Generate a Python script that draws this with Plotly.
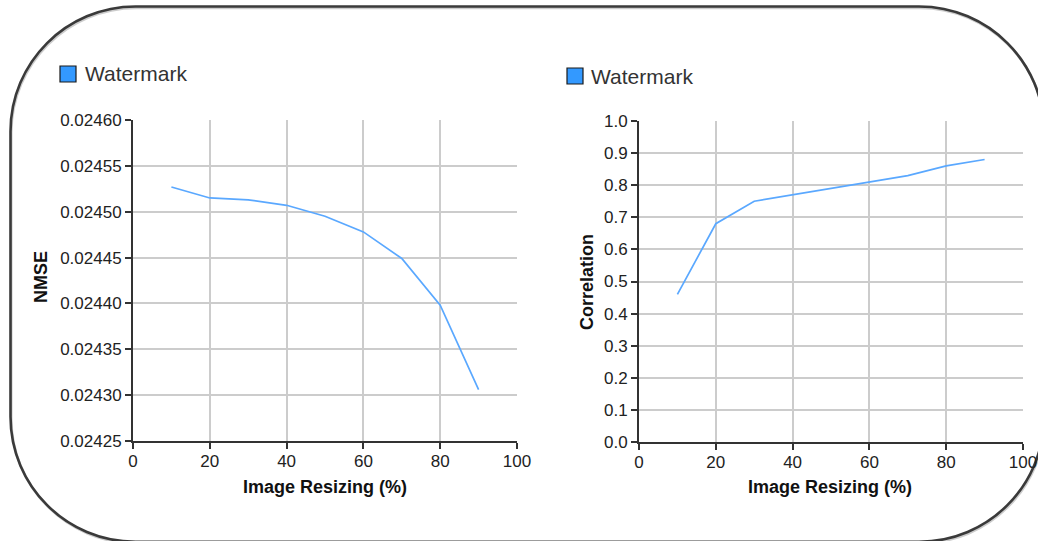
import plotly.graph_objects as go

# ---- data -------------------------------------------------------------
resize_pct = [10, 20, 30, 40, 50, 60, 70, 80, 90]
nmse = [0.024527, 0.024515, 0.024513, 0.024507, 0.024495,
        0.024478, 0.024449, 0.024398, 0.024306]
correlation = [0.46, 0.68, 0.75, 0.77, 0.79, 0.81, 0.83, 0.86, 0.88]

x_ticks = [0, 20, 40, 60, 80, 100]
nmse_ticks = [0.02425, 0.02430, 0.02435, 0.02440, 0.02445, 0.02450, 0.02455, 0.02460]
nmse_tick_labels = ["0.02425", "0.02430", "0.02435", "0.02440",
                    "0.02445", "0.02450", "0.02455", "0.02460"]
corr_ticks = [0.0, 0.1, 0.2, 0.3, 0.4, 0.5, 0.6, 0.7, 0.8, 0.9, 1.0]
corr_tick_labels = ["0.0", "0.1", "0.2", "0.3", "0.4", "0.5",
                    "0.6", "0.7", "0.8", "0.9", "1.0"]

series_name = "Watermark"
x_title = "Image Resizing (%)"
left_y_title = "NMSE"
right_y_title = "Correlation"

# ---- geometry (pixels) -------------------------------------------------
W, H = 1038, 541
FONT = "Liberation Sans, Arial, sans-serif"
LINE_COLOR = "#5aa8ff"
AXIS_COLOR = "#333333"
GRID_COLOR = "#cccccc"
TEXT_COLOR = "#222222"


def px(x):
    return x / W


def py(y):
    return 1 - y / H


fig = go.Figure()

fig.add_trace(go.Scatter(
    x=resize_pct, y=nmse, mode="lines", name=series_name,
    line=dict(color=LINE_COLOR, width=1.7), showlegend=False,
    xaxis="x", yaxis="y",
))
fig.add_trace(go.Scatter(
    x=resize_pct, y=correlation, mode="lines", name=series_name,
    line=dict(color=LINE_COLOR, width=1.7), showlegend=False,
    xaxis="x2", yaxis="y2",
))

common_axis = dict(
    showline=True, linecolor=AXIS_COLOR, linewidth=2,
    ticks="outside", ticklen=6, tickwidth=1.5, tickcolor=AXIS_COLOR,
    showgrid=True, gridcolor=GRID_COLOR, gridwidth=2,
    zeroline=False, tickfont=dict(family=FONT, size=17, color=TEXT_COLOR),
    fixedrange=True, automargin=False,
)
x_axis_extra = dict(ticklabelstandoff=-2)

fig.update_layout(
    width=W, height=H,
    # margins stay at zero so paper coordinates map straight onto pixels
    margin=dict(l=0, r=0, t=0, b=0, autoexpand=False),
    paper_bgcolor="white", plot_bgcolor="white",
    showlegend=False,
    xaxis=dict(domain=[px(133), px(517)], range=[0, 100.0001],
               tickvals=x_ticks, anchor="y", **common_axis, **x_axis_extra),
    yaxis=dict(domain=[py(441), py(120)], range=[0.02425, 0.0246000001],
               tickvals=nmse_ticks, ticktext=nmse_tick_labels,
               anchor="x", **common_axis),
    xaxis2=dict(domain=[px(639), px(1023)], range=[0, 100.0001],
                tickvals=x_ticks, anchor="y2", **common_axis, **x_axis_extra),
    yaxis2=dict(domain=[py(442), py(121)], range=[0, 1.0000001],
                tickvals=corr_ticks, ticktext=corr_tick_labels,
                anchor="x2", **common_axis),
)


# ---- rounded frame around both charts ----------------------------------
def rounded_rect_path(left, top, right, bottom, r, dx=0.0, dy=0.0):
    k = 0.5523 * r
    left, right = left + dx, right + dx
    top, bottom = top + dy, bottom + dy
    pts = [
        ("M", [(left + r, top)]),
        ("L", [(right - r, top)]),
        ("C", [(right - r + k, top), (right, top + r - k), (right, top + r)]),
        ("L", [(right, bottom - r)]),
        ("C", [(right, bottom - r + k), (right - r + k, bottom), (right - r, bottom)]),
        ("L", [(left + r, bottom)]),
        ("C", [(left + r - k, bottom), (left, bottom - r + k), (left, bottom - r)]),
        ("L", [(left, top + r)]),
        ("C", [(left, top + r - k), (left + r - k, top), (left + r, top)]),
    ]
    parts = []
    for cmd, coords in pts:
        parts.append(cmd + " " + " ".join(f"{px(x):.5f},{py(y):.5f}" for x, y in coords))
    return " ".join(parts) + " Z"


FRAME = (10.5, 6.5, 1044, 541.8, 125)
fig.add_shape(type="path", xref="paper", yref="paper",
              path=rounded_rect_path(*FRAME, dx=0.8, dy=1.5),
              line=dict(color="rgba(0,0,0,0.2)", width=2.5), layer="below")
fig.add_shape(type="path", xref="paper", yref="paper",
              path=rounded_rect_path(*FRAME),
              line=dict(color="#3a3a3a", width=2.6), layer="below")

# ---- legends -----------------------------------------------------------
for (sx0, sy0, size, tx, ty) in [(60, 66, 16, 83, 74), (567, 68, 16, 589, 76)]:
    fig.add_shape(type="rect", xref="paper", yref="paper",
                  x0=px(sx0), x1=px(sx0 + size), y0=py(sy0 + size), y1=py(sy0),
                  fillcolor="#3399ff", line=dict(color="#1a1a1a", width=1.2))
    fig.add_annotation(x=px(tx), y=py(ty), xref="paper", yref="paper",
                       text=series_name, showarrow=False,
                       xanchor="left", yanchor="middle",
                       font=dict(family=FONT, size=21, color="#333333"))

# ---- axis titles -------------------------------------------------------
title_font = dict(family=FONT, size=18, color="#111111", weight="bold")
fig.add_annotation(x=px(325), y=py(487), xref="paper", yref="paper",
                   text=x_title, showarrow=False, font=title_font,
                   xanchor="center", yanchor="middle")
fig.add_annotation(x=px(830), y=py(487), xref="paper", yref="paper",
                   text=x_title, showarrow=False, font=title_font,
                   xanchor="center", yanchor="middle")
fig.add_annotation(x=px(41), y=py(277), xref="paper", yref="paper",
                   text=left_y_title, showarrow=False, font=title_font,
                   textangle=-90, xanchor="center", yanchor="middle")
fig.add_annotation(x=px(587), y=py(282), xref="paper", yref="paper",
                   text=right_y_title, showarrow=False, font=title_font,
                   textangle=-90, xanchor="center", yanchor="middle")

fig.write_html("out.html", config={"displayModeBar": False})
